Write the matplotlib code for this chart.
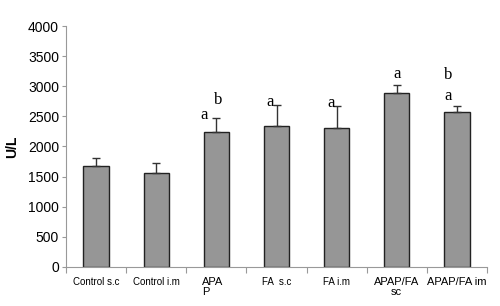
import numpy as np
import matplotlib
matplotlib.use('Agg')
import matplotlib.pyplot as plt

groups = ['Control s.c', 'Control i.m', 'APA\nP', 'FA  s.c', 'FA i.m', 'APAP/FA\nsc', 'APAP/FA im']
means = [1678, 1562, 2243, 2338, 2300, 2892, 2565]
errs = [123, 166, 233, 354, 375, 122, 110]
letters_a = ['', '', 'a', 'a', 'a', 'a', 'a']
letters_b = ['', '', 'b', '', '', '', 'b']
label_sizes = [7, 7, 8, 7, 7, 8, 8]

fig = plt.figure(figsize=(5, 3.06), dpi=100)
ax = fig.add_axes([0.132, 0.128, 0.842, 0.787])

x = np.arange(len(groups))
ax.bar(x, means, width=0.42, color='#969696', edgecolor='#222222', linewidth=1.0, zorder=2)
ax.errorbar(x, means, yerr=[np.zeros(len(errs)), errs], fmt='none', ecolor='#333333',
            elinewidth=1.0, capsize=3, capthick=1.0, zorder=3)

for i in range(len(groups)):
    top = means[i] + errs[i]
    if letters_a[i]:
        if letters_b[i] and i == 6:
            ax.text(i - 0.15, top + 30, letters_a[i], family='Liberation Serif', fontsize=12,
                    ha='center', va='bottom')
            ax.text(i - 0.15, top + 380, letters_b[i], family='Liberation Serif', fontsize=12,
                    ha='center', va='bottom')
        elif letters_b[i]:
            ax.text(i - 0.2, top - 80, letters_a[i], family='Liberation Serif', fontsize=12,
                    ha='center', va='bottom')
            ax.text(i + 0.03, top + 170, letters_b[i], family='Liberation Serif', fontsize=12,
                    ha='center', va='bottom')
        elif i == 5:
            ax.text(i + 0.01, top + 60, letters_a[i], family='Liberation Serif', fontsize=12,
                    ha='center', va='bottom')
        else:
            ax.text(i - 0.1, top - 90, letters_a[i], family='Liberation Serif', fontsize=12,
                    ha='center', va='bottom')

ax.set_xlim(-0.5, len(groups) - 0.5)
ax.set_ylim(0, 4000)
ax.set_yticks(np.arange(0, 4001, 500))
ax.tick_params(axis='y', labelsize=10, length=3, color='#999999', pad=2)
for lab in ax.get_yticklabels():
    lab.set_family('Liberation Sans')

ax.set_xticks(np.arange(-0.5, len(groups), 1.0))
ax.set_xticklabels([])
ax.tick_params(axis='x', length=4, color='#999999')
for i, g in enumerate(groups):
    if i == 2:
        ax.text(i - 0.24, -170, g, family='Liberation Sans', fontsize=label_sizes[i],
                ha='left', va='top', linespacing=1.0)
    else:
        ax.text(i, -170, g, family='Liberation Sans', fontsize=label_sizes[i],
                ha='center', va='top', linespacing=1.0)

ax.set_ylabel('U/L', family='Liberation Sans', fontweight='bold', fontsize=10, labelpad=6)
for s in ['top', 'right']:
    ax.spines[s].set_visible(False)
for s in ['left', 'bottom']:
    ax.spines[s].set_color('#999999')
    ax.spines[s].set_linewidth(0.8)

fig.savefig('out.png', dpi=100)
